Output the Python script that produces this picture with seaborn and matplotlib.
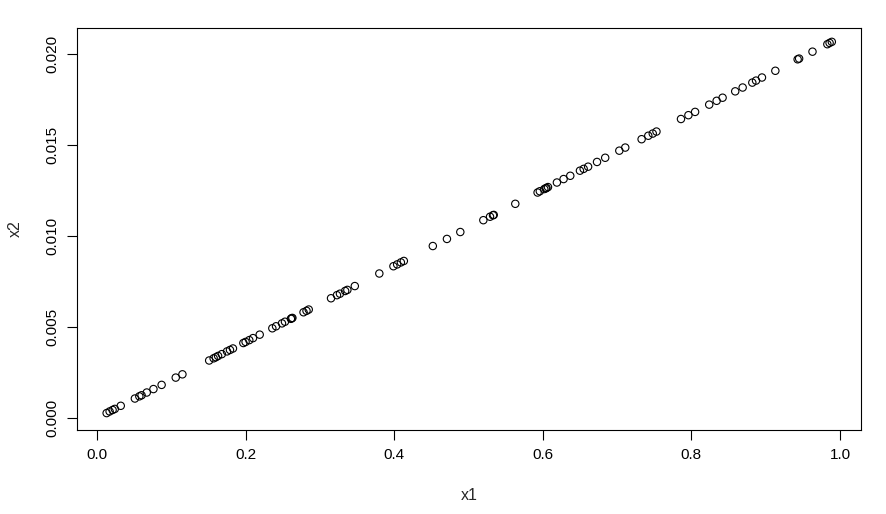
import numpy as np
import pandas as pd
import matplotlib
matplotlib.use("Agg")
import matplotlib.pyplot as plt
import seaborn as sns

# =========================================
# DATA
# =========================================

x1 = [
    0.013, 0.017, 0.021, 0.024, 0.032,
    0.051, 0.057, 0.060, 0.067, 0.076, 0.087,
    0.106, 0.115,
    0.151, 0.157, 0.160, 0.163, 0.168, 0.175, 0.179, 0.183,
    0.197, 0.200, 0.205, 0.210, 0.219,
    0.236, 0.241, 0.249, 0.253, 0.261, 0.262, 0.263, 0.278, 0.282, 0.285,
    0.315, 0.323, 0.327, 0.334, 0.337, 0.347,
    0.380, 0.399, 0.404, 0.409, 0.413,
    0.452, 0.471, 0.489,
    0.520, 0.529, 0.533, 0.534,
    0.563,
    0.593, 0.596, 0.602, 0.604, 0.605, 0.607,
    0.619, 0.628, 0.637,
    0.650, 0.655, 0.661,
    0.673, 0.684,
    0.703, 0.711,
    0.733, 0.742, 0.748, 0.753,
    0.786, 0.796, 0.805,
    0.824, 0.834, 0.842,
    0.859, 0.869,
    0.882, 0.887, 0.895,
    0.913,
    0.943, 0.945,
    0.963,
    0.983, 0.986, 0.989,
]

x2 = [
    0.00027, 0.00036, 0.00044, 0.00050, 0.00067,
    0.00107, 0.00119, 0.00125, 0.00140, 0.00159, 0.00182,
    0.00222, 0.00240,
    0.00316, 0.00328, 0.00334, 0.00341, 0.00351, 0.00366, 0.00374, 0.00382,
    0.00412, 0.00418, 0.00428, 0.00439, 0.00458,
    0.00493, 0.00504, 0.00520, 0.00529, 0.00545, 0.00548, 0.00550, 0.00581, 0.00589, 0.00596,
    0.00658, 0.00675, 0.00683, 0.00698, 0.00704, 0.00725,
    0.00794, 0.00834, 0.00844, 0.00855, 0.00863,
    0.00945, 0.00984, 0.01022,
    0.01087, 0.01106, 0.01114, 0.01116,
    0.01177,
    0.01239, 0.01246, 0.01258, 0.01262, 0.01264, 0.01269,
    0.01294, 0.01313, 0.01331,
    0.01359, 0.01369, 0.01381,
    0.01407, 0.01430,
    0.01469, 0.01486,
    0.01532, 0.01551, 0.01563, 0.01574,
    0.01643, 0.01664, 0.01682,
    0.01722, 0.01743, 0.01760,
    0.01795, 0.01816,
    0.01843, 0.01854, 0.01871,
    0.01908,
    0.01971, 0.01975,
    0.02013,
    0.02054, 0.02061, 0.02067,
]

x_ticks = [0.0, 0.2, 0.4, 0.6, 0.8, 1.0]
y_ticks = [0.000, 0.005, 0.010, 0.015, 0.020]

# =========================================
# PLOT
# =========================================

sns.set_style("white")
plt.rcParams["font.family"] = ["Liberation Sans", "DejaVu Sans"]

df = pd.DataFrame({"x1": x1, "x2": x2})

fig = plt.figure(figsize=(8.87, 5.14), dpi=100)
ax = fig.add_axes([0.0868, 0.1634, 0.8839, 0.7821])

sns.scatterplot(
    data=df, x="x1", y="x2", ax=ax,
    marker="o", s=28, facecolor="none", edgecolor="black", linewidth=0.8
)

ax.set_xlim(-0.0269, 1.0283)
ax.set_ylim(-0.00066, 0.02143)

ax.set_xticks(x_ticks)
ax.set_xticklabels([f"{t:.1f}" for t in x_ticks])
ax.set_yticks(y_ticks)
ax.set_yticklabels([f"{t:.3f}" for t in y_ticks], rotation=90, va="center")

ax.tick_params(direction="out", length=7, width=0.8, color="black",
               labelcolor="black", labelsize=11, pad=6, bottom=True, left=True)

for side in ax.spines.values():
    side.set_visible(True)
    side.set_color("black")
    side.set_linewidth(0.8)

ax.set_xlabel("x1", fontsize=11.5, labelpad=19)
ax.set_ylabel("x2", fontsize=11.5, labelpad=16)

fig.savefig("out.png", dpi=100)
plt.close()
